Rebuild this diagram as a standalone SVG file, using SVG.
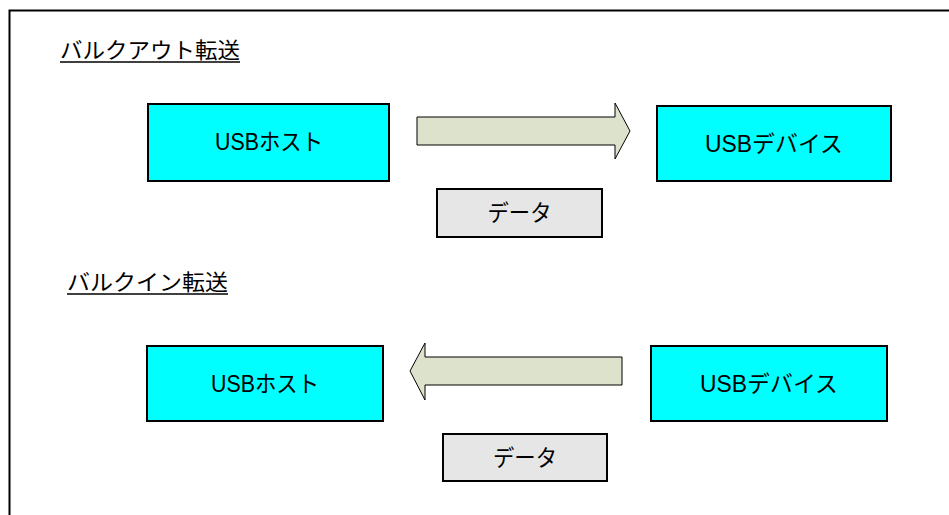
<svg xmlns="http://www.w3.org/2000/svg" width="949" height="515" viewBox="0 0 949 515">
<style>
.box{fill:#00ffff;stroke:#000;stroke-width:2}
.data{fill:#e6e6e6;stroke:#000;stroke-width:2}
.arrow{fill:#dde2cc;stroke:#000;stroke-width:1}
.t{font-family:"Liberation Sans","Noto Sans CJK JP",sans-serif;font-size:23px;fill:#000;text-anchor:middle}
.title{font-family:"Noto Sans CJK JP","Liberation Sans",sans-serif;font-size:22px;fill:#000}
</style>
<rect width="949" height="515" fill="#fff"/>
<path d="M9.5,515 V10.5 H949" fill="none" stroke="#000" stroke-width="2"/>
<g id="title-out">
<text class="title" x="60" y="58" textLength="180" lengthAdjust="spacingAndGlyphs">バルクアウト転送</text>
<line x1="60" y1="62" x2="240" y2="62" stroke="#000" stroke-width="1.5"/>
</g>
<g id="title-in">
<text class="title" x="67" y="290" textLength="161" lengthAdjust="spacingAndGlyphs">バルクイン転送</text>
<line x1="67" y1="294" x2="228" y2="294" stroke="#000" stroke-width="1.5"/>
</g>
<g id="host-out">
<rect class="box" x="148" y="104" width="241" height="77"/>
<text class="t" x="269" y="150" textLength="108" lengthAdjust="spacingAndGlyphs">USBホスト</text>
</g>
<g id="device-out">
<rect class="box" x="657" y="106" width="234" height="75"/>
<text class="t" x="774" y="152" textLength="138" lengthAdjust="spacingAndGlyphs">USBデバイス</text>
</g>
<g id="data-out">
<rect class="data" x="437" y="189" width="165" height="48"/>
<text class="t" x="519.5" y="221" textLength="64" lengthAdjust="spacingAndGlyphs">データ</text>
</g>
<g id="host-in">
<rect class="box" x="147" y="346" width="236" height="75"/>
<text class="t" x="265" y="392" textLength="108" lengthAdjust="spacingAndGlyphs">USBホスト</text>
</g>
<g id="device-in">
<rect class="box" x="651" y="346" width="236" height="75"/>
<text class="t" x="769" y="392" textLength="138" lengthAdjust="spacingAndGlyphs">USBデバイス</text>
</g>
<g id="data-in">
<rect class="data" x="443" y="434" width="164" height="47"/>
<text class="t" x="525" y="466" textLength="64" lengthAdjust="spacingAndGlyphs">データ</text>
</g>
<g id="connectors">
<path class="arrow" d="M417,117 H615 V103 L630,131 L615,159 V145 H417 Z"/>
<path class="arrow" d="M622,357 H425 V343 L410,371 L425,400 V385 H622 Z"/>
</g>
</svg>
